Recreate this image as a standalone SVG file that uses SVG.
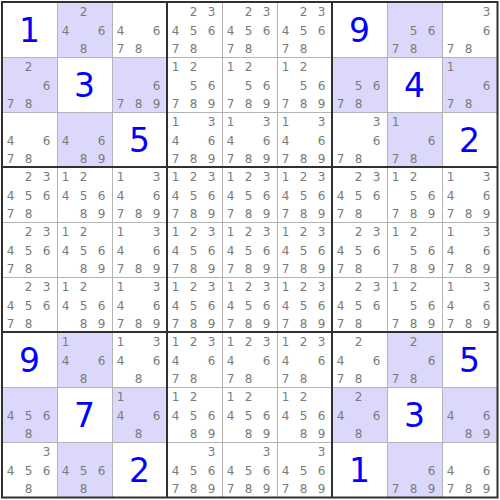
<svg xmlns="http://www.w3.org/2000/svg" width="500" height="500" viewBox="0 0 500 500">
<style>
.bg{fill:#ffffff}
.sh{fill:#dcd8fc}
.m{font-family:"DejaVu Sans",Verdana,sans-serif;font-size:12px;fill:#7a7a7a;text-anchor:middle}
.g{font-family:"DejaVu Sans",Verdana,sans-serif;font-size:33px;fill:#0000ff;text-anchor:middle}
.thin{stroke:#b4b4b4;stroke-width:1;fill:none}
.thick{stroke:#303030;stroke-width:2;fill:none}
</style>
<rect class="bg" x="0" y="0" width="500" height="500"/>
<g id="cells">
<!-- Row 1 -->
<g id="r1c1"><text class="g" x="29.5" y="42">1</text></g>
<g id="r1c2"><rect class="sh" x="57" y="2" width="55" height="55"/><text class="m" x="83.6" y="15.8">2</text><text class="m" x="65.5 101.5" y="34.6">46</text><text class="m" x="83.6" y="52.6">8</text></g>
<g id="r1c3"><text class="m" x="120.5 156.5" y="34.6">46</text><text class="m" x="120.5 138.6" y="52.6">78</text></g>
<g id="r1c4"><text class="m" x="193.6 211.5" y="15.8">23</text><text class="m" x="175.5 193.6 211.5" y="34.6">456</text><text class="m" x="175.5 193.6" y="52.6">78</text></g>
<g id="r1c5"><text class="m" x="248.6 266.5" y="15.8">23</text><text class="m" x="230.5 248.6 266.5" y="34.6">456</text><text class="m" x="230.5 248.6" y="52.6">78</text></g>
<g id="r1c6"><text class="m" x="303.6 321.5" y="15.8">23</text><text class="m" x="285.5 303.6 321.5" y="34.6">456</text><text class="m" x="285.5 303.6" y="52.6">78</text></g>
<g id="r1c7"><text class="g" x="359.5" y="42">9</text></g>
<g id="r1c8"><rect class="sh" x="387" y="2" width="55" height="55"/><text class="m" x="413.6 431.5" y="34.6">56</text><text class="m" x="395.5 413.6" y="52.6">78</text></g>
<g id="r1c9"><text class="m" x="486.5" y="15.8">3</text><text class="m" x="486.5" y="34.6">6</text><text class="m" x="450.5 468.6" y="52.6">78</text></g>
<!-- Row 2 -->
<g id="r2c1"><rect class="sh" x="2" y="57" width="55" height="55"/><text class="m" x="28.6" y="70.8">2</text><text class="m" x="46.5" y="89.6">6</text><text class="m" x="10.5 28.6" y="107.6">78</text></g>
<g id="r2c2"><text class="g" x="84.5" y="97">3</text></g>
<g id="r2c3"><rect class="sh" x="112" y="57" width="55" height="55"/><text class="m" x="156.5" y="89.6">6</text><text class="m" x="120.5 138.6 156.5" y="107.6">789</text></g>
<g id="r2c4"><text class="m" x="175.5 193.6" y="70.8">12</text><text class="m" x="193.6 211.5" y="89.6">56</text><text class="m" x="175.5 193.6 211.5" y="107.6">789</text></g>
<g id="r2c5"><text class="m" x="230.5 248.6" y="70.8">12</text><text class="m" x="248.6 266.5" y="89.6">56</text><text class="m" x="230.5 248.6 266.5" y="107.6">789</text></g>
<g id="r2c6"><text class="m" x="285.5 303.6" y="70.8">12</text><text class="m" x="303.6 321.5" y="89.6">56</text><text class="m" x="285.5 303.6 321.5" y="107.6">789</text></g>
<g id="r2c7"><rect class="sh" x="332" y="57" width="55" height="55"/><text class="m" x="358.6 376.5" y="89.6">56</text><text class="m" x="340.5 358.6" y="107.6">78</text></g>
<g id="r2c8"><text class="g" x="414.5" y="97">4</text></g>
<g id="r2c9"><rect class="sh" x="442" y="57" width="55" height="55"/><text class="m" x="450.5" y="70.8">1</text><text class="m" x="486.5" y="89.6">6</text><text class="m" x="450.5 468.6" y="107.6">78</text></g>
<!-- Row 3 -->
<g id="r3c1"><text class="m" x="10.5 46.5" y="144.6">46</text><text class="m" x="10.5 28.6" y="162.6">78</text></g>
<g id="r3c2"><rect class="sh" x="57" y="112" width="55" height="55"/><text class="m" x="65.5 101.5" y="144.6">46</text><text class="m" x="83.6 101.5" y="162.6">89</text></g>
<g id="r3c3"><text class="g" x="139.5" y="152">5</text></g>
<g id="r3c4"><text class="m" x="175.5 211.5" y="125.8">13</text><text class="m" x="175.5 211.5" y="144.6">46</text><text class="m" x="175.5 193.6 211.5" y="162.6">789</text></g>
<g id="r3c5"><text class="m" x="230.5 266.5" y="125.8">13</text><text class="m" x="230.5 266.5" y="144.6">46</text><text class="m" x="230.5 248.6 266.5" y="162.6">789</text></g>
<g id="r3c6"><text class="m" x="285.5 321.5" y="125.8">13</text><text class="m" x="285.5 321.5" y="144.6">46</text><text class="m" x="285.5 303.6 321.5" y="162.6">789</text></g>
<g id="r3c7"><text class="m" x="376.5" y="125.8">3</text><text class="m" x="376.5" y="144.6">6</text><text class="m" x="340.5 358.6" y="162.6">78</text></g>
<g id="r3c8"><rect class="sh" x="387" y="112" width="55" height="55"/><text class="m" x="395.5" y="125.8">1</text><text class="m" x="431.5" y="144.6">6</text><text class="m" x="395.5 413.6" y="162.6">78</text></g>
<g id="r3c9"><text class="g" x="469.5" y="152">2</text></g>
<!-- Row 4 -->
<g id="r4c1"><text class="m" x="28.6 46.5" y="180.8">23</text><text class="m" x="10.5 28.6 46.5" y="199.6">456</text><text class="m" x="10.5 28.6" y="217.6">78</text></g>
<g id="r4c2"><text class="m" x="65.5 83.6" y="180.8">12</text><text class="m" x="65.5 83.6 101.5" y="199.6">456</text><text class="m" x="83.6 101.5" y="217.6">89</text></g>
<g id="r4c3"><text class="m" x="120.5 156.5" y="180.8">13</text><text class="m" x="120.5 156.5" y="199.6">46</text><text class="m" x="120.5 138.6 156.5" y="217.6">789</text></g>
<g id="r4c4"><text class="m" x="175.5 193.6 211.5" y="180.8">123</text><text class="m" x="175.5 193.6 211.5" y="199.6">456</text><text class="m" x="175.5 193.6 211.5" y="217.6">789</text></g>
<g id="r4c5"><text class="m" x="230.5 248.6 266.5" y="180.8">123</text><text class="m" x="230.5 248.6 266.5" y="199.6">456</text><text class="m" x="230.5 248.6 266.5" y="217.6">789</text></g>
<g id="r4c6"><text class="m" x="285.5 303.6 321.5" y="180.8">123</text><text class="m" x="285.5 303.6 321.5" y="199.6">456</text><text class="m" x="285.5 303.6 321.5" y="217.6">789</text></g>
<g id="r4c7"><text class="m" x="358.6 376.5" y="180.8">23</text><text class="m" x="340.5 358.6 376.5" y="199.6">456</text><text class="m" x="340.5 358.6" y="217.6">78</text></g>
<g id="r4c8"><text class="m" x="395.5 413.6" y="180.8">12</text><text class="m" x="413.6 431.5" y="199.6">56</text><text class="m" x="395.5 413.6 431.5" y="217.6">789</text></g>
<g id="r4c9"><text class="m" x="450.5 486.5" y="180.8">13</text><text class="m" x="450.5 486.5" y="199.6">46</text><text class="m" x="450.5 468.6 486.5" y="217.6">789</text></g>
<!-- Row 5 -->
<g id="r5c1"><text class="m" x="28.6 46.5" y="235.8">23</text><text class="m" x="10.5 28.6 46.5" y="254.6">456</text><text class="m" x="10.5 28.6" y="272.6">78</text></g>
<g id="r5c2"><text class="m" x="65.5 83.6" y="235.8">12</text><text class="m" x="65.5 83.6 101.5" y="254.6">456</text><text class="m" x="83.6 101.5" y="272.6">89</text></g>
<g id="r5c3"><text class="m" x="120.5 156.5" y="235.8">13</text><text class="m" x="120.5 156.5" y="254.6">46</text><text class="m" x="120.5 138.6 156.5" y="272.6">789</text></g>
<g id="r5c4"><text class="m" x="175.5 193.6 211.5" y="235.8">123</text><text class="m" x="175.5 193.6 211.5" y="254.6">456</text><text class="m" x="175.5 193.6 211.5" y="272.6">789</text></g>
<g id="r5c5"><text class="m" x="230.5 248.6 266.5" y="235.8">123</text><text class="m" x="230.5 248.6 266.5" y="254.6">456</text><text class="m" x="230.5 248.6 266.5" y="272.6">789</text></g>
<g id="r5c6"><text class="m" x="285.5 303.6 321.5" y="235.8">123</text><text class="m" x="285.5 303.6 321.5" y="254.6">456</text><text class="m" x="285.5 303.6 321.5" y="272.6">789</text></g>
<g id="r5c7"><text class="m" x="358.6 376.5" y="235.8">23</text><text class="m" x="340.5 358.6 376.5" y="254.6">456</text><text class="m" x="340.5 358.6" y="272.6">78</text></g>
<g id="r5c8"><text class="m" x="395.5 413.6" y="235.8">12</text><text class="m" x="413.6 431.5" y="254.6">56</text><text class="m" x="395.5 413.6 431.5" y="272.6">789</text></g>
<g id="r5c9"><text class="m" x="450.5 486.5" y="235.8">13</text><text class="m" x="450.5 486.5" y="254.6">46</text><text class="m" x="450.5 468.6 486.5" y="272.6">789</text></g>
<!-- Row 6 -->
<g id="r6c1"><text class="m" x="28.6 46.5" y="290.8">23</text><text class="m" x="10.5 28.6 46.5" y="309.6">456</text><text class="m" x="10.5 28.6" y="327.6">78</text></g>
<g id="r6c2"><text class="m" x="65.5 83.6" y="290.8">12</text><text class="m" x="65.5 83.6 101.5" y="309.6">456</text><text class="m" x="83.6 101.5" y="327.6">89</text></g>
<g id="r6c3"><text class="m" x="120.5 156.5" y="290.8">13</text><text class="m" x="120.5 156.5" y="309.6">46</text><text class="m" x="120.5 138.6 156.5" y="327.6">789</text></g>
<g id="r6c4"><text class="m" x="175.5 193.6 211.5" y="290.8">123</text><text class="m" x="175.5 193.6 211.5" y="309.6">456</text><text class="m" x="175.5 193.6 211.5" y="327.6">789</text></g>
<g id="r6c5"><text class="m" x="230.5 248.6 266.5" y="290.8">123</text><text class="m" x="230.5 248.6 266.5" y="309.6">456</text><text class="m" x="230.5 248.6 266.5" y="327.6">789</text></g>
<g id="r6c6"><text class="m" x="285.5 303.6 321.5" y="290.8">123</text><text class="m" x="285.5 303.6 321.5" y="309.6">456</text><text class="m" x="285.5 303.6 321.5" y="327.6">789</text></g>
<g id="r6c7"><text class="m" x="358.6 376.5" y="290.8">23</text><text class="m" x="340.5 358.6 376.5" y="309.6">456</text><text class="m" x="340.5 358.6" y="327.6">78</text></g>
<g id="r6c8"><text class="m" x="395.5 413.6" y="290.8">12</text><text class="m" x="413.6 431.5" y="309.6">56</text><text class="m" x="395.5 413.6 431.5" y="327.6">789</text></g>
<g id="r6c9"><text class="m" x="450.5 486.5" y="290.8">13</text><text class="m" x="450.5 486.5" y="309.6">46</text><text class="m" x="450.5 468.6 486.5" y="327.6">789</text></g>
<!-- Row 7 -->
<g id="r7c1"><text class="g" x="29.5" y="372">9</text></g>
<g id="r7c2"><rect class="sh" x="57" y="332" width="55" height="55"/><text class="m" x="65.5" y="345.8">1</text><text class="m" x="65.5 101.5" y="364.6">46</text><text class="m" x="83.6" y="382.6">8</text></g>
<g id="r7c3"><text class="m" x="120.5 156.5" y="345.8">13</text><text class="m" x="120.5 156.5" y="364.6">46</text><text class="m" x="138.6" y="382.6">8</text></g>
<g id="r7c4"><text class="m" x="175.5 193.6 211.5" y="345.8">123</text><text class="m" x="175.5 211.5" y="364.6">46</text><text class="m" x="175.5 193.6" y="382.6">78</text></g>
<g id="r7c5"><text class="m" x="230.5 248.6 266.5" y="345.8">123</text><text class="m" x="230.5 266.5" y="364.6">46</text><text class="m" x="230.5 248.6" y="382.6">78</text></g>
<g id="r7c6"><text class="m" x="285.5 303.6 321.5" y="345.8">123</text><text class="m" x="285.5 321.5" y="364.6">46</text><text class="m" x="285.5 303.6" y="382.6">78</text></g>
<g id="r7c7"><text class="m" x="358.6" y="345.8">2</text><text class="m" x="340.5 376.5" y="364.6">46</text><text class="m" x="340.5 358.6" y="382.6">78</text></g>
<g id="r7c8"><rect class="sh" x="387" y="332" width="55" height="55"/><text class="m" x="413.6" y="345.8">2</text><text class="m" x="431.5" y="364.6">6</text><text class="m" x="395.5 413.6" y="382.6">78</text></g>
<g id="r7c9"><text class="g" x="469.5" y="372">5</text></g>
<!-- Row 8 -->
<g id="r8c1"><rect class="sh" x="2" y="387" width="55" height="55"/><text class="m" x="10.5 28.6 46.5" y="419.6">456</text><text class="m" x="28.6" y="437.6">8</text></g>
<g id="r8c2"><text class="g" x="84.5" y="427">7</text></g>
<g id="r8c3"><rect class="sh" x="112" y="387" width="55" height="55"/><text class="m" x="120.5" y="400.8">1</text><text class="m" x="120.5 156.5" y="419.6">46</text><text class="m" x="138.6" y="437.6">8</text></g>
<g id="r8c4"><text class="m" x="175.5 193.6" y="400.8">12</text><text class="m" x="175.5 193.6 211.5" y="419.6">456</text><text class="m" x="193.6 211.5" y="437.6">89</text></g>
<g id="r8c5"><text class="m" x="230.5 248.6" y="400.8">12</text><text class="m" x="230.5 248.6 266.5" y="419.6">456</text><text class="m" x="248.6 266.5" y="437.6">89</text></g>
<g id="r8c6"><text class="m" x="285.5 303.6" y="400.8">12</text><text class="m" x="285.5 303.6 321.5" y="419.6">456</text><text class="m" x="303.6 321.5" y="437.6">89</text></g>
<g id="r8c7"><rect class="sh" x="332" y="387" width="55" height="55"/><text class="m" x="358.6" y="400.8">2</text><text class="m" x="340.5 376.5" y="419.6">46</text><text class="m" x="358.6" y="437.6">8</text></g>
<g id="r8c8"><text class="g" x="414.5" y="427">3</text></g>
<g id="r8c9"><rect class="sh" x="442" y="387" width="55" height="55"/><text class="m" x="450.5 486.5" y="419.6">46</text><text class="m" x="468.6 486.5" y="437.6">89</text></g>
<!-- Row 9 -->
<g id="r9c1"><text class="m" x="46.5" y="455.8">3</text><text class="m" x="10.5 28.6 46.5" y="474.6">456</text><text class="m" x="28.6" y="492.6">8</text></g>
<g id="r9c2"><rect class="sh" x="57" y="442" width="55" height="55"/><text class="m" x="65.5 83.6 101.5" y="474.6">456</text><text class="m" x="83.6" y="492.6">8</text></g>
<g id="r9c3"><text class="g" x="139.5" y="482">2</text></g>
<g id="r9c4"><text class="m" x="211.5" y="455.8">3</text><text class="m" x="175.5 193.6 211.5" y="474.6">456</text><text class="m" x="175.5 193.6 211.5" y="492.6">789</text></g>
<g id="r9c5"><text class="m" x="266.5" y="455.8">3</text><text class="m" x="230.5 248.6 266.5" y="474.6">456</text><text class="m" x="230.5 248.6 266.5" y="492.6">789</text></g>
<g id="r9c6"><text class="m" x="321.5" y="455.8">3</text><text class="m" x="285.5 303.6 321.5" y="474.6">456</text><text class="m" x="285.5 303.6 321.5" y="492.6">789</text></g>
<g id="r9c7"><text class="g" x="359.5" y="482">1</text></g>
<g id="r9c8"><rect class="sh" x="387" y="442" width="55" height="55"/><text class="m" x="431.5" y="474.6">6</text><text class="m" x="395.5 413.6 431.5" y="492.6">789</text></g>
<g id="r9c9"><text class="m" x="450.5 486.5" y="474.6">46</text><text class="m" x="450.5 468.6 486.5" y="492.6">789</text></g>
</g>
<g id="grid">
<path class="thin" d="M57.5 2V497M112.5 2V497M222.5 2V497M277.5 2V497M387.5 2V497M442.5 2V497M2 57.5H497M2 112.5H497M2 222.5H497M2 277.5H497M2 387.5H497M2 442.5H497"/>
<path class="thick" d="M167 2V497M332 2V497M2 167H497M2 332H497"/>
<rect class="thick" x="2" y="2" width="495.5" height="495.5" stroke-width="2.5"/>
</g>
</svg>
